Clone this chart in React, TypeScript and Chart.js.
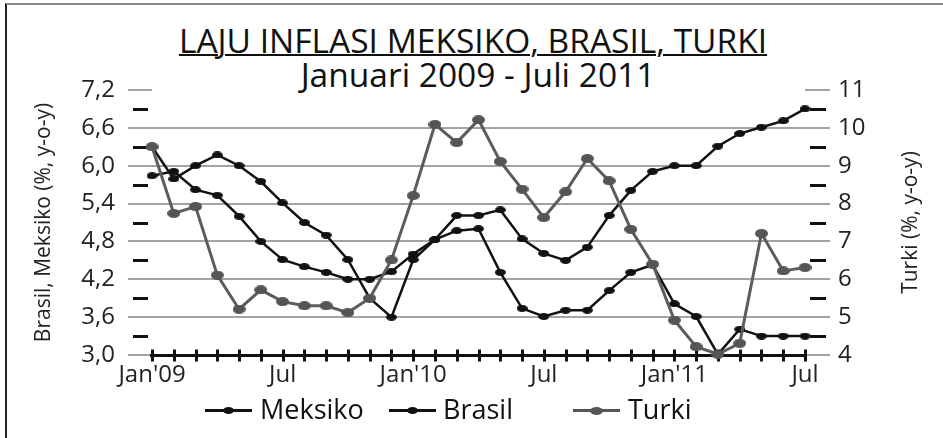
import React, { useEffect, useRef } from 'react';
import { Chart, registerables } from 'chart.js';

Chart.register(...registerables);

// ---- Data ----
const months = [
  "Jan'09", "Feb'09", "Mar'09", "Apr'09", "May'09", "Jun'09", "Jul'09", "Aug'09", "Sep'09", "Oct'09", "Nov'09", "Dec'09",
  "Jan'10", "Feb'10", "Mar'10", "Apr'10", "May'10", "Jun'10", "Jul'10", "Aug'10", "Sep'10", "Oct'10", "Nov'10", "Dec'10",
  "Jan'11", "Feb'11", "Mar'11", "Apr'11", "May'11", "Jun'11", "Jul'11",
];
const xTickLabels: Record<number, string> = { 0: "Jan'09", 6: 'Jul', 12: "Jan'10", 18: 'Jul', 24: "Jan'11", 30: 'Jul' };

const meksiko = [6.30, 5.79, 6.00, 6.17, 6.00, 5.75, 5.41, 5.10, 4.90, 4.51, 3.90, 3.60, 4.51, 4.83, 4.97, 5.00, 4.31, 3.74, 3.61, 3.71, 3.71, 4.02, 4.31, 4.43, 3.81, 3.61, 3.01, 3.41, 3.30, 3.30, 3.30];
const brasil = [5.84, 5.91, 5.62, 5.53, 5.20, 4.80, 4.51, 4.40, 4.31, 4.20, 4.20, 4.32, 4.60, 4.83, 5.21, 5.21, 5.30, 4.84, 4.61, 4.50, 4.71, 5.21, 5.61, 5.91, 6.00, 6.00, 6.31, 6.51, 6.61, 6.71, 6.90];
const turki = [9.50, 7.74, 7.92, 6.11, 5.21, 5.72, 5.41, 5.30, 5.30, 5.12, 5.50, 6.51, 8.21, 10.09, 9.61, 10.21, 9.11, 8.38, 7.63, 8.31, 9.19, 8.60, 7.32, 6.40, 4.92, 4.22, 4.02, 4.31, 7.21, 6.22, 6.31];

const leftTicks = [3.0, 3.6, 4.2, 4.8, 5.4, 6.0, 6.6, 7.2];
const leftMinor = [3.3, 3.9, 4.5, 5.1, 5.7, 6.3, 6.9];
const rightTicks = [4, 5, 6, 7, 8, 9, 10, 11];

const FONT = "'Open Sans', 'Noto Sans', sans-serif";
const GRID = '#a3a3a3';

function ellipseImg(w: number, h: number, color: string) {
  const c = document.createElement('canvas');
  c.width = w;
  c.height = h;
  const g = c.getContext('2d')!;
  g.fillStyle = color;
  g.beginPath();
  g.ellipse(w / 2, h / 2, w / 2, h / 2, 0, 0, Math.PI * 2);
  g.fill();
  return c;
}

const decorPlugin = {
  id: 'decor',
  beforeDatasetsDraw(chart: any) {
    const { ctx, chartArea, scales } = chart;
    const x = scales.x;
    const y = scales.y;
    ctx.save();
    ctx.strokeStyle = '#111';
    ctx.lineWidth = 3;
    for (const v of leftMinor) {
      const py = Math.round(y.getPixelForValue(v)) + 0.5;
      ctx.beginPath();
      ctx.moveTo(chartArea.left - 19, py);
      ctx.lineTo(chartArea.left - 4, py);
      ctx.moveTo(chartArea.right + 5, py);
      ctx.lineTo(chartArea.right + 21, py);
      ctx.stroke();
    }
    const y0 = Math.round(y.getPixelForValue(3.0)) + 0.5;
    const xa = x.getPixelForValue(0);
    const xb = x.getPixelForValue(months.length - 1);
    ctx.beginPath();
    ctx.moveTo(xa - 2, y0);
    ctx.lineTo(xb + 2, y0);
    ctx.stroke();
    for (let i = 0; i < months.length; i++) {
      const px = Math.round(x.getPixelForValue(i)) + 0.5;
      ctx.beginPath();
      ctx.moveTo(px, y0 - 6);
      ctx.lineTo(px, y0 + 6);
      ctx.stroke();
    }
    ctx.restore();
  },
  afterDraw(chart: any) {
    const { ctx, chartArea } = chart;
    ctx.save();
    ctx.translate(911, (chartArea.top + chartArea.bottom) / 2);
    ctx.rotate(-Math.PI / 2);
    ctx.font = `21px ${FONT}`;
    ctx.fillStyle = '#222';
    ctx.textAlign = 'center';
    ctx.textBaseline = 'middle';
    ctx.fillText('Turki (%, y-o-y)', 0, 0);
    ctx.restore();
  },
};

function LegendItem({ left, color, dotW, dotH, text, textLeft }: any) {
  return (
    <>
      <div style={{ position: 'absolute', left, top: 409, width: 47, height: 3, background: color }} />
      <div
        style={{
          position: 'absolute',
          left: left + 23.5 - dotW / 2,
          top: 410.5 - dotH / 2,
          width: dotW,
          height: dotH,
          borderRadius: '50%',
          background: color,
        }}
      />
      <div
        style={{
          position: 'absolute',
          left: textLeft,
          top: 391,
          fontFamily: FONT,
          fontSize: 27,
          lineHeight: '36px',
          color: '#111',
          whiteSpace: 'nowrap',
        }}
      >
        {text}
      </div>
    </>
  );
}

export default function App() {
  const canvasRef = useRef<HTMLCanvasElement | null>(null);

  useEffect(() => {
    const blackDot = ellipseImg(11, 7, '#111');
    const grayDot = ellipseImg(13, 9, '#555');
    const chart = new Chart(canvasRef.current!, {
      type: 'line',
      data: {
        labels: months,
        datasets: [
          {
            label: 'Meksiko',
            data: meksiko,
            yAxisID: 'y',
            borderColor: '#111',
            borderWidth: 2.5,
            pointStyle: blackDot as any,
            pointRadius: 5,
            tension: 0,
            clip: false as any,
            order: 1,
          },
          {
            label: 'Brasil',
            data: brasil,
            yAxisID: 'y',
            borderColor: '#111',
            borderWidth: 2.5,
            pointStyle: blackDot as any,
            pointRadius: 5,
            tension: 0,
            clip: false as any,
            order: 2,
          },
          {
            label: 'Turki',
            data: turki,
            yAxisID: 'y1',
            borderColor: '#5c5c5c',
            borderWidth: 3,
            pointStyle: grayDot as any,
            pointRadius: 6,
            tension: 0,
            clip: false as any,
            order: 0,
          },
        ],
      },
      options: {
        animation: false,
        responsive: true,
        maintainAspectRatio: false,
        layout: { padding: { top: 90, left: 0, right: 0, bottom: 0 } },
        plugins: {
          legend: { display: false },
          tooltip: { enabled: false },
          title: { display: false },
        },
        scales: {
          x: {
            type: 'category',
            offset: false,
            grid: { display: false, drawTicks: false },
            border: { display: false },
            ticks: {
              autoSkip: false,
              maxRotation: 0,
              minRotation: 0,
              padding: 6,
              color: '#222',
              font: { family: FONT, size: 24 },
              callback: (_v: any, i: number) => xTickLabels[i] ?? '',
            },
            afterFit: (s: any) => {
              s.height = 83;
            },
          },
          y: {
            position: 'left',
            min: 3.0,
            max: 7.2,
            afterBuildTicks: (s: any) => {
              s.ticks = leftTicks.map((v) => ({ value: v }));
            },
            border: { display: false },
            grid: {
              color: (c: any) => (c.tick && (c.tick.value === 7.2 || c.tick.value === 3.0) ? 'rgba(0,0,0,0)' : GRID),
              tickColor: GRID,
              lineWidth: 2,
              tickLength: 24,
            },
            ticks: {
              padding: 13,
              color: '#222',
              font: { family: FONT, size: 24 },
              callback: (v: any) => Number(v).toFixed(1).replace('.', ','),
            },
            title: {
              display: true,
              text: 'Brasil, Meksiko (%, y-o-y)',
              color: '#222',
              font: { family: FONT, size: 21 },
              padding: { top: 31, bottom: 0 },
            },
            afterFit: (s: any) => {
              s.width = 152;
            },
          },
          y1: {
            position: 'right',
            min: 4,
            max: 11,
            afterBuildTicks: (s: any) => {
              s.ticks = rightTicks.map((v) => ({ value: v }));
            },
            border: { display: false },
            grid: {
              drawOnChartArea: false,
              tickColor: GRID,
              lineWidth: 2,
              tickLength: 25,
            },
            ticks: {
              padding: 8,
              color: '#222',
              font: { family: FONT, size: 24 },
              callback: (v: any) => String(v),
            },
            afterFit: (s: any) => {
              s.width = 943 - 805;
            },
          },
        },
      },
      plugins: [decorPlugin],
    });
    return () => chart.destroy();
  }, []);

  return (
    <div style={{ position: 'absolute', left: 0, top: 0, width: 943, height: 438, overflow: 'hidden', background: '#fff' }}>
      <div
        style={{
          position: 'absolute',
          left: 5,
          top: 3,
          width: 945,
          height: 445,
          borderTop: '2px solid #8a8a8a',
          borderLeft: '2px solid #222',
        }}
      />
      <div
        style={{
          position: 'absolute',
          left: 0,
          width: 946,
          top: 24,
          textAlign: 'center',
          fontFamily: FONT,
          fontSize: 33.5,
          lineHeight: '33px',
          color: '#111',
          textDecoration: 'underline',
          textDecorationThickness: 2,
          whiteSpace: 'nowrap',
        }}
      >
        LAJU INFLASI MEKSIKO, BRASIL, TURKI
      </div>
      <div
        style={{
          position: 'absolute',
          left: 0,
          width: 956,
          top: 58,
          textAlign: 'center',
          fontFamily: FONT,
          fontSize: 33.5,
          lineHeight: '33px',
          color: '#111',
          whiteSpace: 'nowrap',
        }}
      >
        Januari 2009 - Juli 2011
      </div>
      <div style={{ position: 'absolute', left: 0, top: 0, width: 943, height: 438 }}>
        <canvas ref={canvasRef} />
      </div>
      <LegendItem left={205} color="#111" dotW={11} dotH={7} text="Meksiko" textLeft={260} />
      <LegendItem left={389} color="#111" dotW={11} dotH={7} text="Brasil" textLeft={443} />
      <LegendItem left={573} color="#555" dotW={13} dotH={8} text="Turki" textLeft={628} />
    </div>
  );
}
